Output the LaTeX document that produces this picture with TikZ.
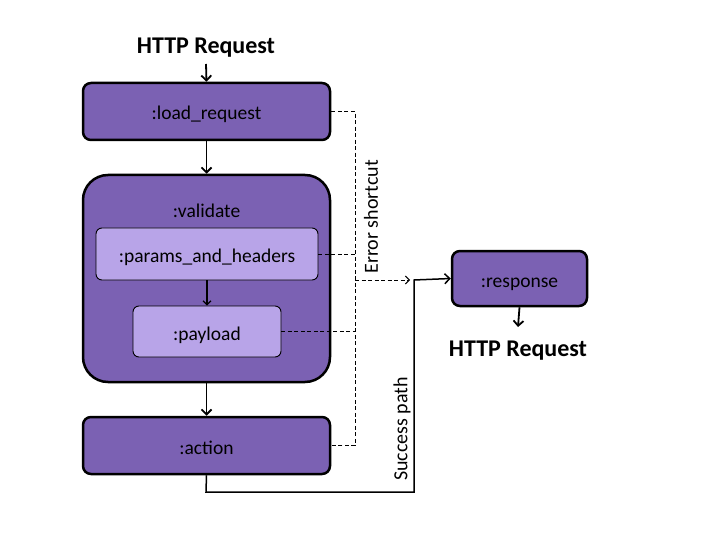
\documentclass[tikz,border=0pt]{standalone}
\usepackage{fontspec}
\setmainfont{Carlito}
\usetikzlibrary{arrows.meta,positioning}
\definecolor{darkp}{RGB}{123,97,179}
\definecolor{lightp}{RGB}{184,164,232}
\begin{document}
\begin{tikzpicture}[x=1pt,y=-1pt,
  bigbox/.style={draw=black,line width=2.5pt,fill=darkp,rounded corners=8pt,inner sep=0pt,text height=17pt,text depth=0pt,font=\fontsize{19.5}{22}\selectfont},
  subbox/.style={draw=black,line width=0.9pt,fill=lightp,rounded corners=6pt,inner sep=0pt,text height=17pt,text depth=0pt,font=\fontsize{19.5}{22}\selectfont},
  title/.style={font=\bfseries\fontsize{24}{28}\selectfont},
  flow/.style={line width=1.8pt,-{Straight Barb[length=5pt,width=10pt]}},
  thinflow/.style={line width=1.1pt,-{Straight Barb[length=4pt,width=8pt]}},
  dashline/.style={dash pattern=on 4pt off 2.5pt,line width=1pt},
  lbl/.style={font=\fontsize{20}{24}\selectfont,rotate=90}]
\useasboundingbox (0,0) rectangle (720,540);
\node[title] (req) at (206,48) {HTTP Request};
\node[bigbox,minimum width=247pt,minimum height=57pt] (load) at (206.5,111.5) {:load\_request};
\node[bigbox,rounded corners=25pt,minimum width=247pt,minimum height=207pt] (val) at (206.5,278.5) {};
\node[font=\fontsize{19.5}{22}\selectfont] (valt) at (206.5,211) {:validate};
\node[subbox,minimum width=222pt,minimum height=52pt] (par) at (207,254) {:params\_and\_headers};
\node[subbox,minimum width=148pt,minimum height=51pt] (pay) at (207,331.5) {:payload};
\node[bigbox,minimum width=247pt,minimum height=57pt] (act) at (206.5,445.5) {:action};
\node[bigbox,minimum width=135pt,minimum height=55pt] (resp) at (519.5,278.5) {:response};
\node[title] (req2) at (518,351) {HTTP Request};
\coordinate (ej) at (355,280);
\coordinate (ea) at (410,280);
\coordinate (sp) at (414,280);
\coordinate (reqb) at (206,64);
\coordinate (respb) at (518,327);
\coordinate (c1) at (206,492);
\coordinate (c2) at (414,492);
\draw[flow] (reqb) -- (load.north);
\draw[flow] (load.south) -- (val.north);
\draw[thinflow] (par.south) -- (pay.north);
\draw[flow] (val.south) -- (act.north);
\draw[flow] (resp.south) -- (respb);
\draw[dashline] (load.east) -- (load.east -| ej) -- (act.east -| ej) -- (act.east);
\draw[dashline] (par.east) -- (par.east -| ej);
\draw[dashline] (pay.east) -- (pay.east -| ej);
\draw[dashline,-{Straight Barb[length=4pt,width=8pt]}] (ej) -- (ea);
\draw[line width=1.5pt,-{Straight Barb[length=5pt,width=10pt]}] (act.south) -- (c1) -- (c2) -- (sp) -- (resp.west);
\node[lbl] (el) at (371,217) {Error shortcut};
\node[lbl] (sl) at (402,429) {Success path};
\end{tikzpicture}
\end{document}
